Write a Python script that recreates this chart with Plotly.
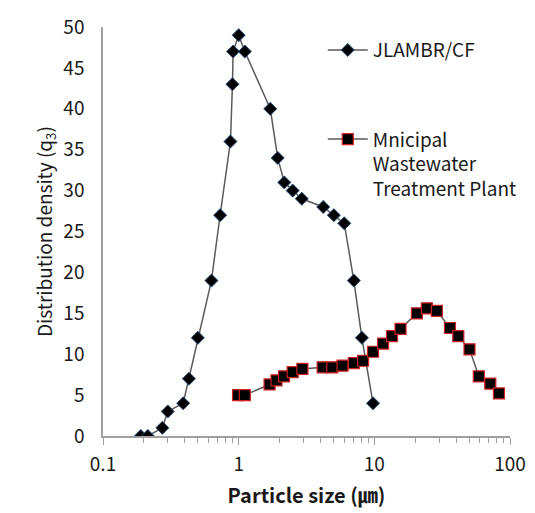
import plotly.graph_objects as go

# JLAMBR/CF series
jl_x = [0.19, 0.214, 0.274, 0.30, 0.39, 0.43, 0.50, 0.63, 0.73, 0.87, 0.90, 0.91,
        1.0, 1.11, 1.71, 1.94, 2.17, 2.50, 2.92, 4.2, 5.03, 6.0, 7.06, 8.1, 9.78]
jl_y = [0, 0, 1, 3, 4, 7, 12, 19, 27, 36, 43, 47,
        49, 47, 40, 34, 31, 30, 29, 28, 27, 26, 19, 12, 4]

# Municipal wastewater treatment plant series
mw_x = [0.99, 1.11, 1.69, 1.90, 2.16, 2.50, 2.95, 4.16, 4.9, 5.83, 7.06, 8.26,
        9.78, 11.6, 13.5, 15.6, 20.6, 24.4, 28.9, 36.1, 41.6, 50.3, 58.9, 71.6, 82.9]
mw_y = [5.0, 5.0, 6.3, 6.8, 7.3, 7.8, 8.2, 8.4, 8.4, 8.6, 8.9, 9.2,
        10.3, 11.3, 12.2, 13.1, 15.0, 15.6, 15.3, 13.2, 12.2, 10.6, 7.3, 6.4, 5.2]

x_ticks = [0.1, 1, 10, 100]
x_tick_text = ["0.1", "1", "10", "100"]
x_minor = [m * d for d in (0.1, 1, 10) for m in range(2, 10)]
y_ticks = [0, 5, 10, 15, 20, 25, 30, 35, 40, 45, 50]

FONT = "Noto Sans CJK KR, Noto Sans, sans-serif"
FS = 19

fig = go.Figure()
fig.add_trace(go.Scatter(
    x=jl_x, y=jl_y, mode="lines+markers", name="JLAMBR/CF",
    legend="legend",
    line=dict(color="#5a5a5a", width=1.5),
    marker=dict(symbol="diamond", size=10, color="#000000",
                line=dict(color="#1f4e79", width=1)),
))
fig.add_trace(go.Scatter(
    x=mw_x, y=mw_y, mode="lines+markers",
    name="Mnicipal<br>Wastewater<br>Treatment Plant",
    legend="legend2",
    line=dict(color="#5a5a5a", width=1.5),
    marker=dict(symbol="square", size=11, color="#000000",
                line=dict(color="#d02020", width=1.2)),
))

legend_common = dict(xanchor="left", yanchor="top", bgcolor="rgba(0,0,0,0)",
                     valign="top", font=dict(size=FS, family=FONT, color="#1a1a1a"),
                     itemwidth=40)

fig.update_layout(
    width=535, height=513,
    margin=dict(l=103, r=25, t=27, b=77),
    paper_bgcolor="white", plot_bgcolor="white",
    font=dict(family=FONT, size=FS, color="#1a1a1a"),
    showlegend=True,
    legend=dict(x=0.54, y=0.99, **legend_common),
    legend2=dict(x=0.54, y=0.772, **legend_common),
)
fig.update_xaxes(
    type="log", range=[-1, 2], tickvals=x_ticks, ticktext=x_tick_text,
    showgrid=False, zeroline=False, showline=True, linecolor="#a0a0a0", linewidth=1.5,
    ticks="outside", ticklen=7, tickcolor="#a0a0a0", ticklabelstandoff=3,
    minor=dict(tickvals=x_minor, ticks="outside", ticklen=5, tickcolor="#a0a0a0", showgrid=False),
    title=dict(text="<b>Particle size (㎛)</b>", font=dict(size=20, family=FONT), standoff=14),
    automargin=False,
)
fig.update_yaxes(
    range=[0, 50], tickvals=y_ticks,
    showgrid=False, zeroline=False, showline=True, linecolor="#a0a0a0", linewidth=1.5,
    ticks="", ticklabelstandoff=13,
    title=dict(text="Distribution density (q<sub>3</sub>)", font=dict(size=FS, family=FONT), standoff=6),
    automargin=False,
)

fig.write_html("out.html")
